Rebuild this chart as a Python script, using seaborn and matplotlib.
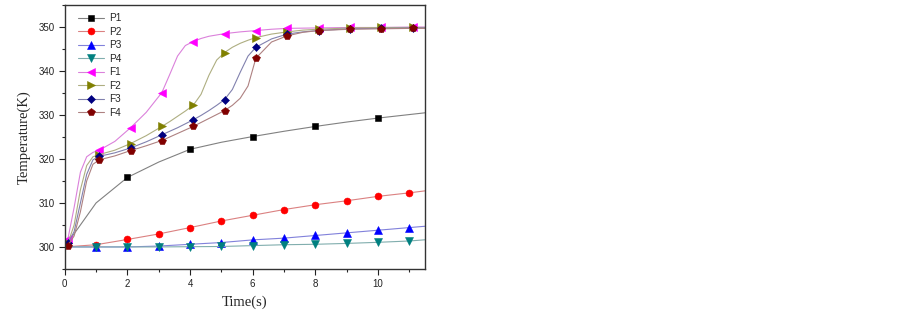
"""
Temperature rise of probe points P1-P4 and F1-F4 against time.
"""

import matplotlib
matplotlib.use("Agg")
import matplotlib.pyplot as plt
import matplotlib.colors as mcolors
import seaborn as sns
import pandas as pd

# --- data ------------------------------------------------------------------
p_time = [0, 1, 2, 3, 4, 5, 6, 7, 8, 9, 10, 11, 12]
p1 = [300.0, 310.0, 315.8, 319.3, 322.2, 323.8, 325.1, 326.3, 327.4, 328.4, 329.3, 330.1, 330.9]
p2 = [300.0, 300.5, 301.7, 302.95, 304.4, 305.9, 307.2, 308.5, 309.6, 310.5, 311.5, 312.3, 313.2]
p3 = [300.0, 300.0, 300.0, 300.2, 300.6, 301.0, 301.6, 302.0, 302.6, 303.2, 303.8, 304.4, 305.0]
p4 = [300.0, 300.0, 300.0, 300.0, 300.05, 300.1, 300.3, 300.5, 300.6, 300.8, 301.05, 301.35, 301.9]

f_time = [0.1, 0.3, 0.5, 0.7, 0.9, 1.1, 1.6, 2.1, 2.6, 3.1, 3.35, 3.6, 3.85, 4.1,
          4.35, 4.6, 4.85, 5.1, 5.35, 5.6, 5.85, 6.1, 6.6, 7.1, 7.6, 8.1, 9.1,
          10.1, 11.1, 12.0]
f1 = [301.8, 309.0, 317.0, 320.5, 321.5, 322.0, 324.0, 327.1, 330.6, 335.1, 339.2,
      343.4, 345.8, 346.7, 347.4, 347.9, 348.2, 348.5, 348.7, 348.9, 349.05, 349.2,
      349.5, 349.7, 349.75, 349.8, 349.9, 349.9, 350.0, 350.0]
f2 = [300.8, 305.0, 313.0, 318.5, 320.5, 321.0, 322.0, 323.5, 325.3, 327.4, 328.5,
      329.7, 330.9, 332.2, 334.7, 339.0, 342.5, 344.2, 345.4, 346.3, 347.0, 347.6,
      348.4, 348.9, 349.3, 349.5, 349.8, 349.9, 349.9, 349.9]
f3 = [300.8, 303.5, 310.0, 316.5, 319.8, 320.6, 321.4, 322.5, 323.9, 325.5, 326.3,
      327.1, 328.0, 328.9, 329.9, 331.0, 332.2, 333.5, 335.8, 339.7, 343.4, 345.4,
      347.3, 348.4, 348.9, 349.2, 349.6, 349.7, 349.8, 349.8]
f4 = [300.3, 302.5, 308.0, 315.0, 318.8, 319.8, 320.7, 321.9, 323.0, 324.2, 325.0,
      325.8, 326.6, 327.4, 328.3, 329.2, 330.1, 331.0, 332.2, 333.8, 336.6, 342.9,
      346.6, 348.0, 348.8, 349.2, 349.5, 349.6, 349.7, 349.7]

labels = ["P1", "P2", "P3", "P4", "F1", "F2", "F3", "F4"]
colors = ["#000000", "#ff0000", "#0000ff", "#008080",
          "#ff00ff", "#808000", "#000080", "#800000"]
markers = ["s", "o", "^", "v", "<", ">", "D", "p"]
sizes = [4.2, 5.0, 5.4, 5.4, 5.4, 5.4, 4.4, 5.4]

# which points carry a marker (lines are drawn through every point)
p1_marks = [2, 4, 6, 8, 10]
p_marks = list(range(1, 12))
f_marks = [0, 5, 7, 9, 13, 17, 21, 23, 25, 26, 27, 28]


def lighten(color, amount=0.65):
    """Blend a colour toward light grey, like the faded connecting lines."""
    r, g, b = mcolors.to_rgb(color)
    grey = 0.78
    return (r * (1 - amount) + grey * amount,
            g * (1 - amount) + grey * amount,
            b * (1 - amount) + grey * amount)


sns.set_style("ticks")
plt.rcParams["font.family"] = ["Liberation Sans", "DejaVu Sans"]

fig = plt.figure(figsize=(9.03, 3.16), dpi=100)
ax = fig.add_axes([0.0717, 0.149, 0.399, 0.835])

series = [
    (p_time, p1, p1_marks),
    (p_time, p2, p_marks),
    (p_time, p3, p_marks),
    (p_time, p4, p_marks),
    (f_time, f1, f_marks),
    (f_time, f2, f_marks),
    (f_time, f3, f_marks),
    (f_time, f4, f_marks),
]

for (t, y, marks), label, color, marker, size in zip(series, labels, colors, markers, sizes):
    df = pd.DataFrame({"Time": t, "Temperature": y})
    sns.lineplot(data=df, x="Time", y="Temperature", ax=ax, errorbar=None,
                 label=label, color=lighten(color), linewidth=0.8,
                 marker=marker, markevery=marks, markersize=size,
                 markerfacecolor=color, markeredgecolor=color,
                 markeredgewidth=0.4)

ax.set_xlim(0, 11.5)
ax.set_ylim(295, 355)
ax.set_xticks([0, 2, 4, 6, 8, 10])
ax.set_xticks(range(0, 12), minor=True)
ax.set_yticks([300, 310, 320, 330, 340, 350])
ax.set_yticks(range(295, 356, 5), minor=True)

ax.tick_params(which="major", direction="out", length=4, width=0.8,
               labelsize=7, colors="#222222", pad=3)
ax.tick_params(which="minor", direction="out", length=2.5, width=0.8)
for side in ax.spines.values():
    side.set_linewidth(1.0)
    side.set_color("#333333")

ax.set_xlabel("Time(s)", family=["Liberation Serif", "DejaVu Serif"],
              fontsize=10.5, labelpad=5)
ax.set_ylabel("Temperature(K)", family=["Liberation Serif", "DejaVu Serif"],
              fontsize=10.5, labelpad=6)

ax.legend(loc="upper left", frameon=False, fontsize=7.2, handlelength=2.6,
          handletextpad=0.5, labelspacing=0.35, borderaxespad=0.4,
          bbox_to_anchor=(0.015, 1.0))

fig.savefig("out.png", dpi=100, facecolor="white")
